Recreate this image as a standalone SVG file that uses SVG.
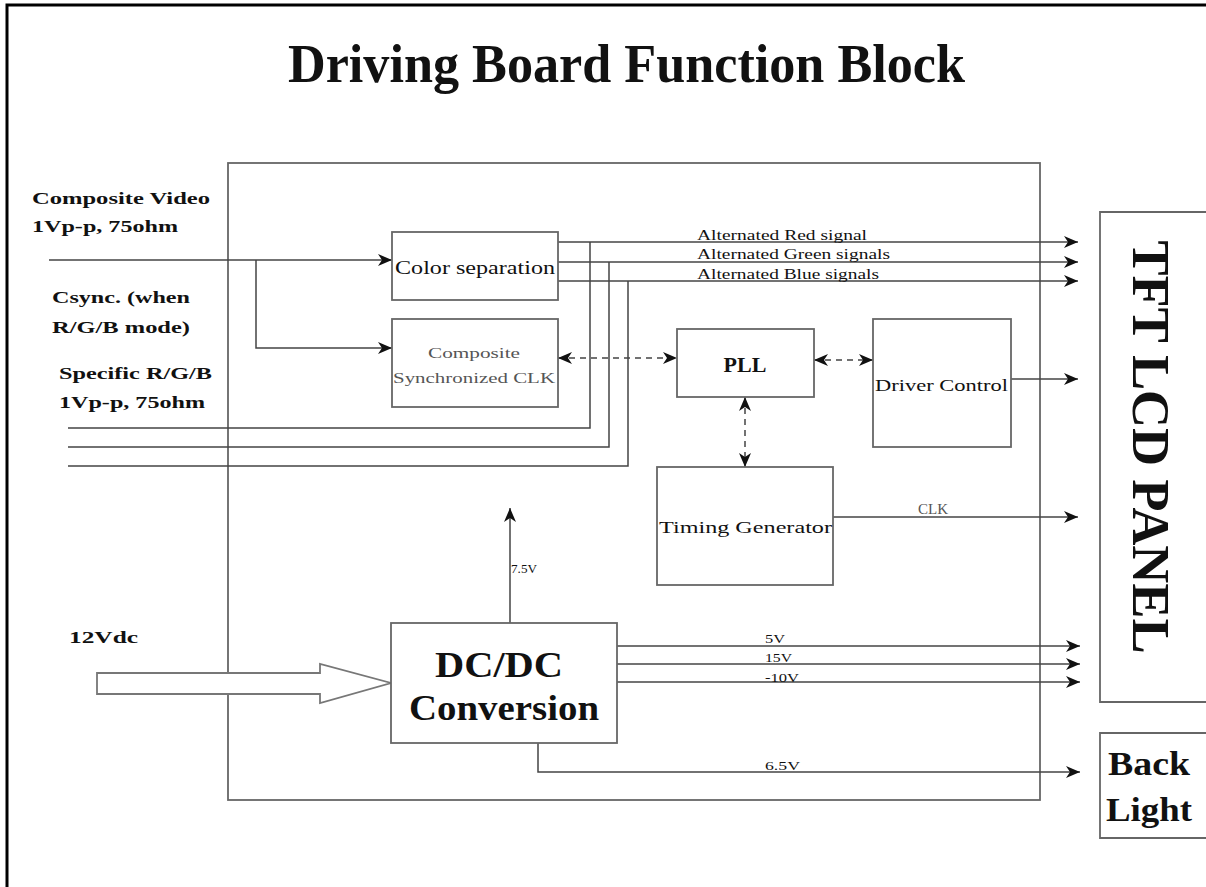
<svg xmlns="http://www.w3.org/2000/svg" width="1206" height="887" viewBox="0 0 1206 887">
<style>
.bx{fill:#fff;stroke:#666;stroke-width:1.8}
.ln{fill:none;stroke:#444;stroke-width:1.5}
.ds{fill:none;stroke:#444;stroke-width:1.5;stroke-dasharray:6 5}
.t{font-family:"Liberation Serif","Times New Roman",serif;fill:#111}
.b{font-weight:bold}
.g{fill:#555}
</style>
<defs>
<marker id="ah" viewBox="0 0 14 12" refX="14" refY="6" markerWidth="14" markerHeight="12" orient="auto-start-reverse" markerUnits="userSpaceOnUse">
<path d="M0,0 L14,6 L0,12 L4,6 z" fill="#111"/>
</marker>
</defs>
<rect width="1206" height="887" fill="#fff"/>
<path d="M7,887 V5 H1206" fill="none" stroke="#000" stroke-width="3"/>
<text class="t b" x="288" y="82" font-size="54" textLength="677" lengthAdjust="spacingAndGlyphs">Driving Board Function Block</text>

<g id="board"><rect class="bx" x="228" y="163" width="812" height="637" stroke="#555"/></g>

<g id="labels-left">
<text class="t b" x="32" y="204" font-size="17" textLength="178" lengthAdjust="spacingAndGlyphs">Composite Video</text>
<text class="t b" x="32" y="232" font-size="17" textLength="146" lengthAdjust="spacingAndGlyphs">1Vp-p, 75ohm</text>
<text class="t b" x="52" y="303" font-size="17" textLength="138" lengthAdjust="spacingAndGlyphs">Csync. (when</text>
<text class="t b" x="52" y="333" font-size="17" textLength="138" lengthAdjust="spacingAndGlyphs">R/G/B mode)</text>
<text class="t b" x="59" y="379" font-size="17" textLength="153" lengthAdjust="spacingAndGlyphs">Specific R/G/B</text>
<text class="t b" x="59" y="408" font-size="17" textLength="146" lengthAdjust="spacingAndGlyphs">1Vp-p, 75ohm</text>
<text class="t b" x="69" y="643" font-size="17" textLength="69" lengthAdjust="spacingAndGlyphs">12Vdc</text>
</g>

<g id="connectors">
<path class="ln" d="M49,260 H392" marker-end="url(#ah)"/>
<path class="ln" d="M256,260 V348 H392" marker-end="url(#ah)"/>
<path class="ln" d="M558,242 H1078" marker-end="url(#ah)"/>
<path class="ln" d="M558,262 H1078" marker-end="url(#ah)"/>
<path class="ln" d="M558,281 H1078" marker-end="url(#ah)"/>
<path class="ln" d="M68,428 H590 V242"/>
<path class="ln" d="M68,447 H609 V262"/>
<path class="ln" d="M68,466 H628 V281"/>
<path class="ds" d="M558,358 H677" marker-start="url(#ah)" marker-end="url(#ah)"/>
<path class="ds" d="M814,360 H873" marker-start="url(#ah)" marker-end="url(#ah)"/>
<path class="ds" d="M745,397 V467" marker-start="url(#ah)" marker-end="url(#ah)"/>
<path class="ln" d="M1011,379 H1078" marker-end="url(#ah)"/>
<path class="ln" d="M833,517 H1078" marker-end="url(#ah)"/>
<path class="ln" d="M510,623 V508" marker-end="url(#ah)"/>
<path class="ln" d="M617,646 H1080" marker-end="url(#ah)"/>
<path class="ln" d="M617,664 H1080" marker-end="url(#ah)"/>
<path class="ln" d="M617,682 H1080" marker-end="url(#ah)"/>
<path class="ln" d="M538,743 V772 H1080" marker-end="url(#ah)"/>
<polygon points="97,673 320,673 320,664 391,683 320,703 320,694 97,694" fill="#fff" stroke="#777" stroke-width="1.8"/>
<text class="t" x="697" y="240" font-size="14" textLength="170" lengthAdjust="spacingAndGlyphs">Alternated Red signal</text>
<text class="t" x="697" y="259" font-size="14" textLength="193" lengthAdjust="spacingAndGlyphs">Alternated Green signals</text>
<text class="t" x="697" y="279" font-size="14" textLength="182" lengthAdjust="spacingAndGlyphs">Alternated Blue signals</text>
<text class="t g" x="918" y="514" font-size="14" textLength="30" lengthAdjust="spacingAndGlyphs">CLK</text>
<text class="t" x="511" y="573" font-size="13" textLength="26" lengthAdjust="spacingAndGlyphs">7.5V</text>
<text class="t" x="765" y="643" font-size="13" textLength="20" lengthAdjust="spacingAndGlyphs">5V</text>
<text class="t" x="765" y="662" font-size="13" textLength="27" lengthAdjust="spacingAndGlyphs">15V</text>
<text class="t" x="765" y="682" font-size="13" textLength="34" lengthAdjust="spacingAndGlyphs">-10V</text>
<text class="t" x="765" y="770" font-size="13" textLength="35" lengthAdjust="spacingAndGlyphs">6.5V</text>
</g>

<g id="color-separation">
<rect class="bx" x="392" y="232" width="166" height="68"/>
<text class="t" x="395" y="274" font-size="18" textLength="160" lengthAdjust="spacingAndGlyphs">Color separation</text>
</g>
<g id="composite-sync">
<rect class="bx" x="392" y="319" width="166" height="88"/>
<text class="t g" x="428" y="358" font-size="15" textLength="92" lengthAdjust="spacingAndGlyphs">Composite</text>
<text class="t g" x="393" y="383" font-size="15" textLength="162" lengthAdjust="spacingAndGlyphs">Synchronized CLK</text>
</g>
<g id="pll">
<rect class="bx" x="677" y="329" width="137" height="68"/>
<text class="t b" x="745" y="372" font-size="22" text-anchor="middle">PLL</text>
</g>
<g id="driver-control">
<rect class="bx" x="873" y="319" width="138" height="128"/>
<text class="t" x="875" y="391" font-size="17" textLength="133" lengthAdjust="spacingAndGlyphs">Driver Control</text>
</g>
<g id="timing-generator">
<rect class="bx" x="657" y="467" width="176" height="118"/>
<text class="t" x="659" y="533" font-size="17" textLength="173" lengthAdjust="spacingAndGlyphs">Timing Generator</text>
</g>
<g id="dcdc">
<rect class="bx" x="391" y="623" width="226" height="120"/>
<text class="t b" x="499" y="677" font-size="36" text-anchor="middle" textLength="128" lengthAdjust="spacingAndGlyphs">DC/DC</text>
<text class="t b" x="504" y="720" font-size="36" text-anchor="middle" textLength="190" lengthAdjust="spacingAndGlyphs">Conversion</text>
</g>
<g id="tft-panel">
<path d="M1210,212 H1100 V702 H1210" class="bx" stroke="#888"/>
<text class="t b" transform="translate(1133,447) rotate(90)" x="0" y="0" font-size="52" text-anchor="middle" textLength="413" lengthAdjust="spacingAndGlyphs">TFT LCD PANEL</text>
</g>
<g id="back-light">
<path d="M1210,733 H1100 V838 H1210" class="bx" stroke="#888"/>
<text class="t b" x="1108" y="775" font-size="34" textLength="82" lengthAdjust="spacingAndGlyphs">Back</text>
<text class="t b" x="1106" y="821" font-size="34" textLength="86" lengthAdjust="spacingAndGlyphs">Light</text>
</g>
</svg>
